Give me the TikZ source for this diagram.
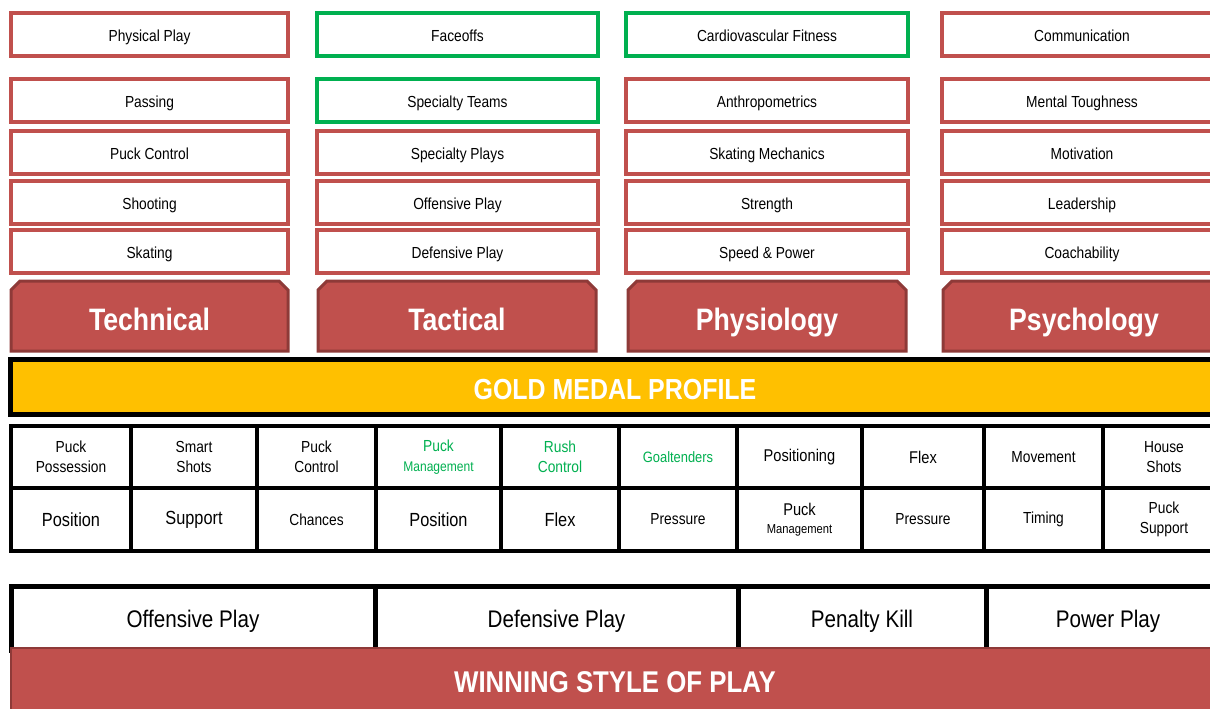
\documentclass[tikz,border=0pt]{standalone}
\usepackage{fontspec}
\setmainfont{Liberation Sans}[FakeStretch=0.86]
\usetikzlibrary{shapes.misc}
\definecolor{redc}{HTML}{C0504D}
\definecolor{darkred}{HTML}{8E3A38}
\definecolor{greenc}{HTML}{00B050}
\definecolor{goldc}{HTML}{FFC000}
\newcommand\fs[1]{\fontsize{#1}{\fpeval{#1*1.25}}\selectfont}
% \mkbox{style}{name}{x1}{y1}{x2}{y2}{text}
\newcommand\mkbox[7]{\node[#1, minimum width={#5-#3}, minimum height={#6-#4}] (#2) at ({(#3+#5)/2},{(#4+#6)/2}) {#7};}
\tikzset{
  base/.style={inner sep=0pt, outer sep=0pt, align=center},
  topbox/.style={base, draw=redc, line width=4pt, fill=white, font=\fs{16}, text=black, text height=14pt, text depth=0pt},
  greenbox/.style={topbox, draw=greenc},
  header/.style={base, chamfered rectangle, chamfered rectangle corners={north west,north east},
     chamfered rectangle xsep=4.5pt, chamfered rectangle ysep=4.5pt,
     draw=darkred, line width=3pt, fill=redc, text=white, font=\bfseries\fs{31}, text height=29pt, text depth=0pt},
  goldband/.style={base, draw=black, line width=5pt, fill=goldc},
  bandtext/.style={text=white, font=\bfseries\fs{29}},
  cell/.style={base, draw=black, line width=4.5pt, fill=white, font=\fs{16}, text=black},
  gcell/.style={cell, text=greenc},
  bigcell/.style={cell, font=\fs{19}},
  playcell/.style={base, draw=black, line width=5pt, fill=white, font=\fs{24}, text=black, text height=19pt, text depth=0pt},
  redband/.style={base, draw=darkred, line width=2.5pt, fill=redc},
}
\begin{document}
\begin{tikzpicture}[x=1pt,y=-1pt]
\useasboundingbox (0,0) rectangle (1210,709);
\clip (0,0) rectangle (1210,709);
% column 1
\mkbox{topbox}{pp}{11}{13}{288}{56}{Physical Play}
\mkbox{topbox}{pa}{11}{79}{288}{122}{Passing}
\mkbox{topbox}{pc}{11}{131}{288}{174}{Puck Control}
\mkbox{topbox}{sh}{11}{181}{288}{224}{Shooting}
\mkbox{topbox}{sk}{11}{230}{288}{273}{Skating}
% column 2
\mkbox{greenbox}{fo}{317}{13}{598}{56}{Faceoffs}
\mkbox{greenbox}{st}{317}{79}{598}{122}{Specialty Teams}
\mkbox{topbox}{sp}{317}{131}{598}{174}{Specialty Plays}
\mkbox{topbox}{op}{317}{181}{598}{224}{Offensive Play}
\mkbox{topbox}{dp}{317}{230}{598}{273}{Defensive Play}
% column 3
\mkbox{greenbox}{cf}{626}{13}{908}{56}{Cardiovascular Fitness}
\mkbox{topbox}{an}{626}{79}{908}{122}{Anthropometrics}
\mkbox{topbox}{sm}{626}{131}{908}{174}{Skating Mechanics}
\mkbox{topbox}{str}{626}{181}{908}{224}{Strength}
\mkbox{topbox}{spw}{626}{230}{908}{273}{Speed \& Power}
% column 4
\mkbox{topbox}{co}{942}{13}{1222}{56}{Communication}
\mkbox{topbox}{mt}{942}{79}{1222}{122}{Mental Toughness}
\mkbox{topbox}{mo}{942}{131}{1222}{174}{Motivation}
\mkbox{topbox}{le}{942}{181}{1222}{224}{Leadership}
\mkbox{topbox}{cb}{942}{230}{1222}{273}{Coachability}
% headers
\mkbox{header}{tech}{11}{281}{288}{351}{Technical}
\mkbox{header}{tact}{318}{281}{596}{351}{Tactical}
\mkbox{header}{phys}{628}{281}{906}{351}{Physiology}
\mkbox{header}{psy}{943}{281}{1225}{351}{Psychology}
% gold band
\mkbox{goldband}{gold}{10}{359}{1230}{414}{}
\node[bandtext] (goldt) at (615,390) {GOLD MEDAL PROFILE};
% grid top row
\mkbox{cell}{a1}{11}{426}{131}{488}{Puck\\Possession}
\mkbox{cell}{a2}{131}{426}{257}{488}{Smart\\Shots}
\mkbox{cell}{a3}{257}{426}{376}{488}{Puck\\Control}
\mkbox{gcell}{a4}{376}{426}{501}{488}{Puck\\{\fs{14}Management}}
\mkbox{gcell}{a5}{501}{426}{619}{488}{Rush\\Control}
\mkbox{gcell}{a6}{619}{426}{737}{488}{\fs{15}Goaltenders}
\mkbox{cell}{a7}{737}{426}{862}{488}{\fs{17}Positioning}
\mkbox{cell}{a8}{862}{426}{984}{488}{\fs{17}Flex}
\mkbox{cell}{a9}{984}{426}{1103}{488}{Movement}
\mkbox{cell}{a10}{1103}{426}{1225}{488}{House\\Shots}
% grid bottom row
\mkbox{bigcell}{b1}{11}{488}{131}{551}{Position}
\mkbox{bigcell}{b2}{131}{488}{257}{551}{Support}
\mkbox{cell}{b3}{257}{488}{376}{551}{Chances}
\mkbox{bigcell}{b4}{376}{488}{501}{551}{Position}
\mkbox{bigcell}{b5}{501}{488}{619}{551}{Flex}
\mkbox{cell}{b6}{619}{488}{737}{551}{Pressure}
\mkbox{cell}{b7}{737}{488}{862}{551}{{\fs{17}Puck}\\[-2pt]{\fs{13}Management}}
\mkbox{cell}{b8}{862}{488}{984}{551}{Pressure}
\mkbox{cell}{b9}{984}{488}{1103}{551}{Timing}
\mkbox{cell}{b10}{1103}{488}{1225}{551}{Puck\\Support}
% style of play
\mkbox{playcell}{off}{11}{586}{375}{650}{Offensive Play}
\mkbox{playcell}{def}{375}{586}{738}{650}{Defensive Play}
\mkbox{playcell}{pk}{738}{586}{986}{650}{Penalty Kill}
\mkbox{playcell}{pwp}{986}{586}{1230}{650}{Power Play}
\mkbox{redband}{win}{11}{648}{1230}{720}{}
\node[bandtext, font=\bfseries\fs{30}] (wint) at (615,682) {WINNING STYLE OF PLAY};
\end{tikzpicture}
\end{document}
